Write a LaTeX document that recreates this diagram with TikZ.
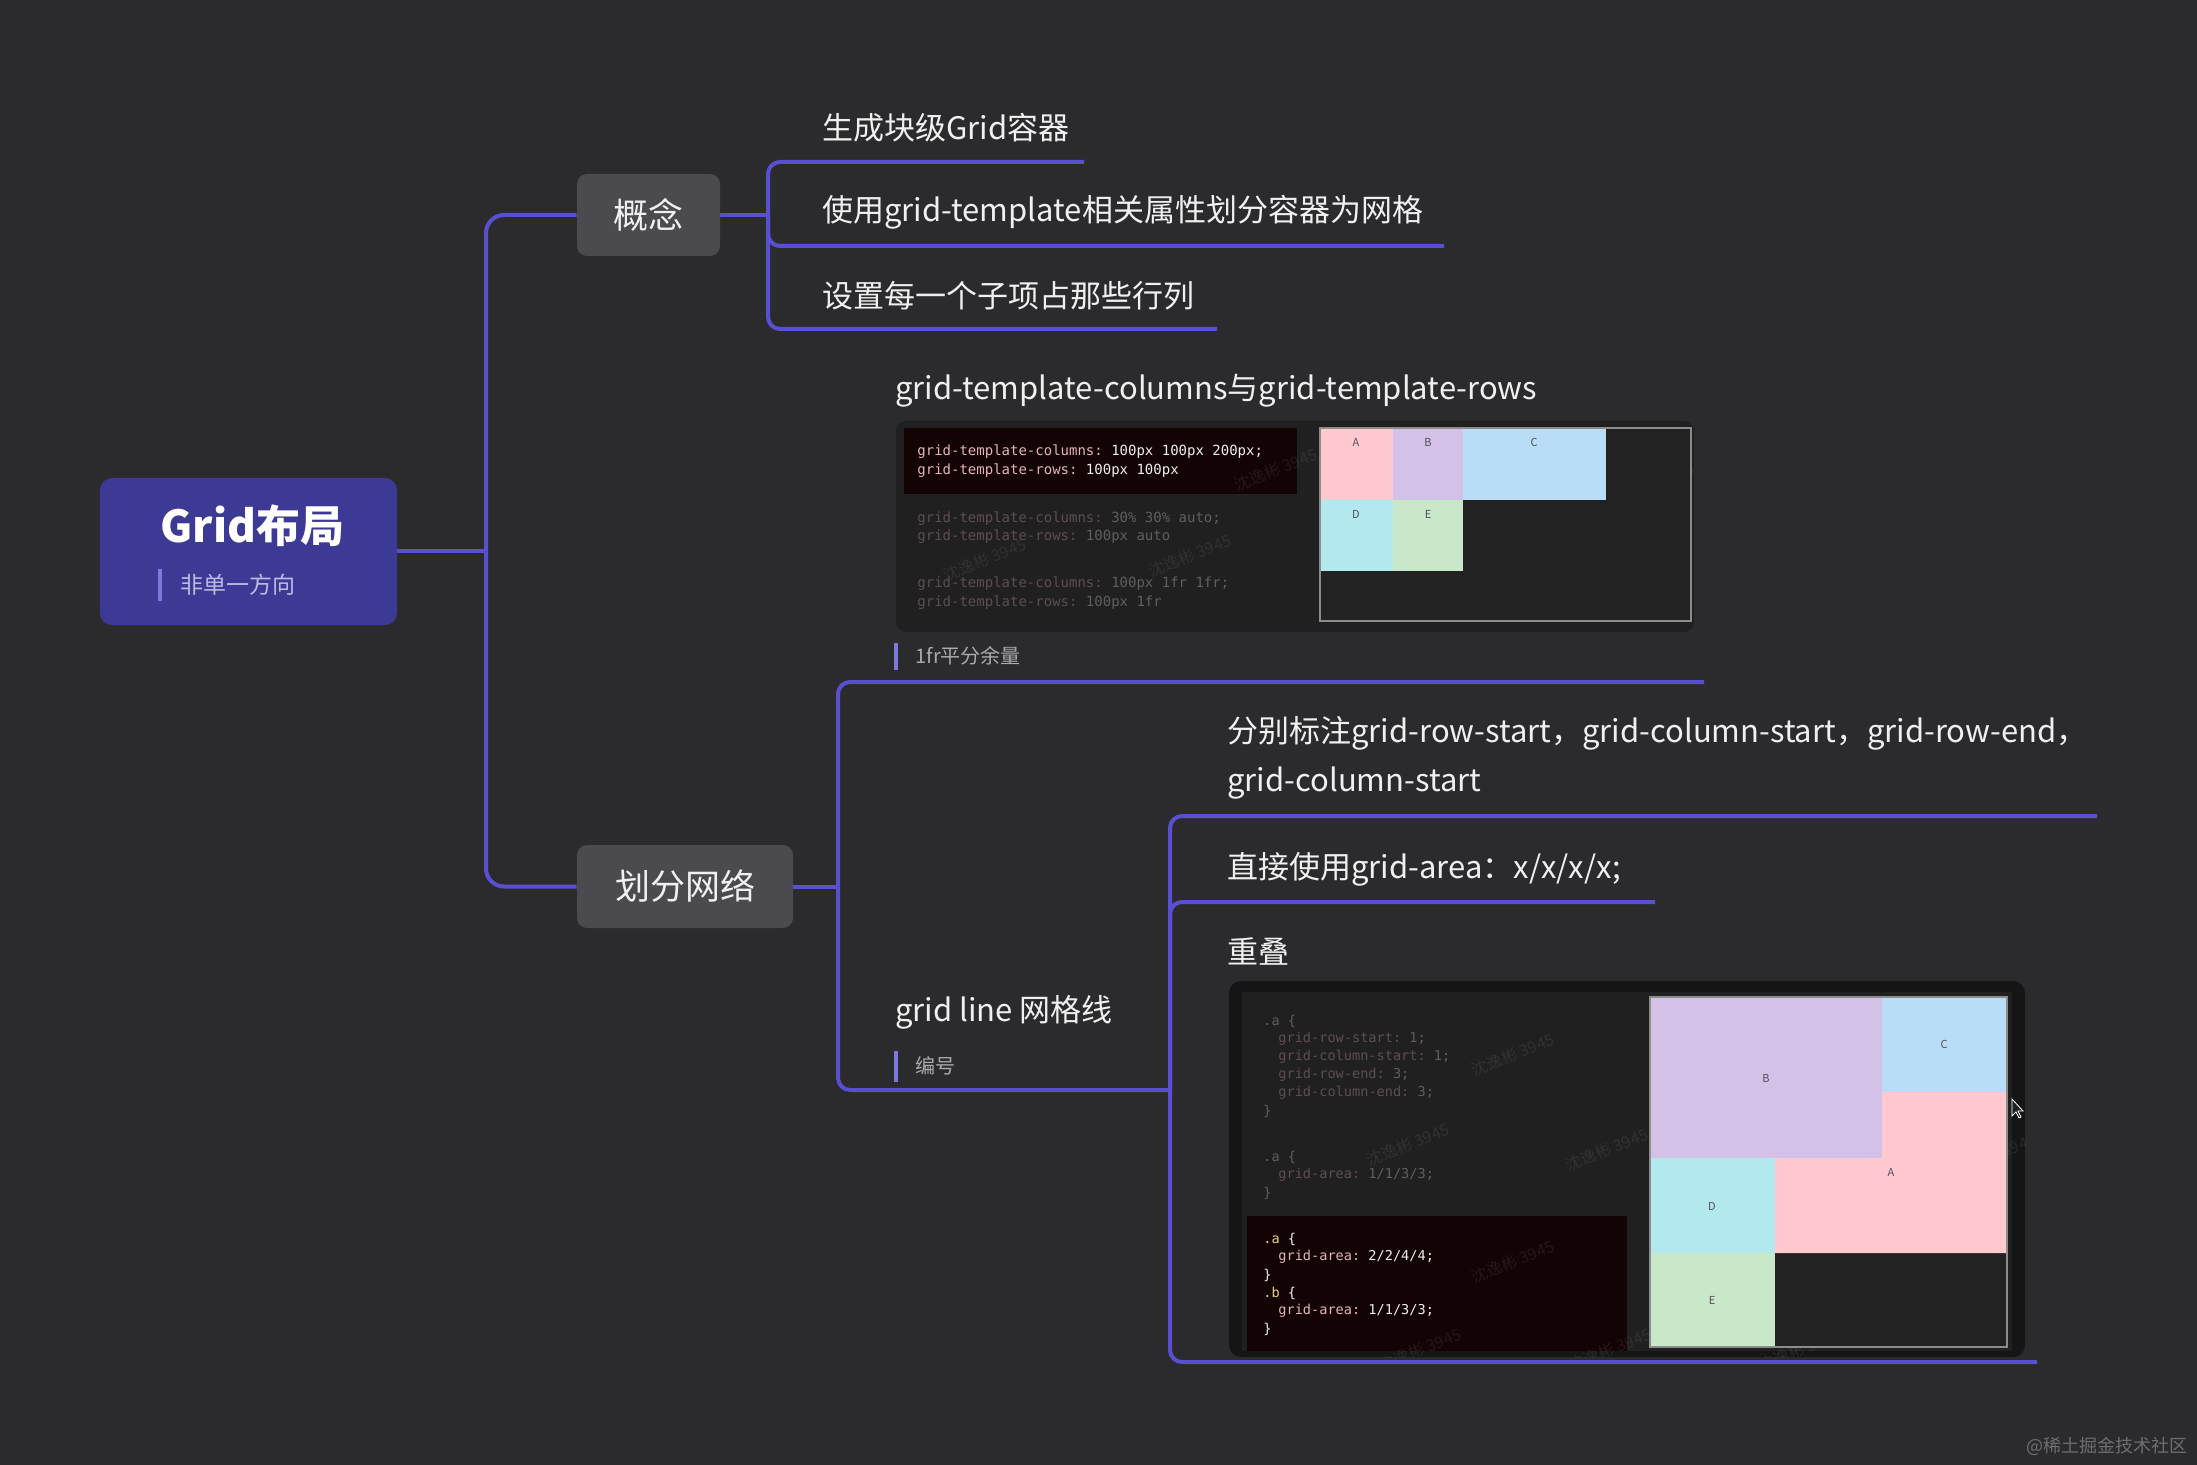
\documentclass[tikz,border=0pt]{standalone}
\usepackage{fontspec}
\setmainfont{Noto Sans CJK SC}
\setmonofont{DejaVu Sans Mono}
\definecolor{bgc}{RGB}{43,43,46}
\definecolor{branch}{RGB}{88,80,208}
\definecolor{rootc}{RGB}{61,58,150}
\definecolor{subfill}{RGB}{74,74,79}
\definecolor{subt}{RGB}{189,187,226}
\definecolor{notegray}{RGB}{170,170,172}
\definecolor{notebarc}{RGB}{125,120,224}
\definecolor{panelc}{RGB}{32,32,33}
\definecolor{panelo}{RGB}{21,21,22}
\definecolor{hlc}{RGB}{20,3,4}
\definecolor{pkb}{RGB}{226,180,186}
\definecolor{wv}{RGB}{240,240,240}
\definecolor{dimk}{RGB}{92,78,80}
\definecolor{dimv}{RGB}{95,95,95}
\definecolor{yel}{RGB}{228,212,110}
\definecolor{cA}{RGB}{255,201,207}
\definecolor{cB}{RGB}{211,193,231}
\definecolor{cC}{RGB}{185,220,247}
\definecolor{cD}{RGB}{178,233,239}
\definecolor{cE}{RGB}{201,231,201}
\definecolor{celltext}{RGB}{80,80,90}
\definecolor{framec}{RGB}{140,140,140}
\definecolor{darkcell}{RGB}{34,34,35}
\definecolor{footc}{RGB}{110,110,112}
\tikzset{
  br/.style={draw=branch, line width=2pt, rounded corners=6pt},
  trunkline/.style={draw=branch, line width=2pt, rounded corners=9pt},
  txt/.style={anchor=west, inner sep=0pt, text=wv, font=\fontsize{15.5}{18}\selectfont},
  notetxt/.style={anchor=west, inner sep=0pt, text=notegray, font=\fontsize{10}{12}\selectfont},
  notebar/.style={draw=notebarc, line width=1.8pt},
  topic/.style={fill=subfill, rounded corners=5pt, inner sep=0pt, text=wv, font=\fontsize{17.5}{20}\selectfont},
  codeln/.style={anchor=west, inner sep=0pt, font=\ttfamily\fontsize{7}{8}\selectfont},
  codeln2/.style={anchor=west, inner sep=0pt, font=\ttfamily\fontsize{6.8}{8}\selectfont},
  celllab/.style={inner sep=0pt, font=\fontsize{5.5}{6}\selectfont, text=celltext},
  wmark/.style={text=white, text opacity=0.08, rotate=22, inner sep=0pt, font=\fontsize{8}{9}\selectfont},
}
\begin{document}
\begin{tikzpicture}[x=0.5pt,y=-0.5pt]
\fill[bgc] (0,0) rectangle (2197,1465);
\useasboundingbox (0,0) rectangle (2197,1465);

% ---------- root ----------
\node[fill=rootc, rounded corners=6pt, minimum width=148.5pt, minimum height=73.5pt, inner sep=0pt] (root) at (248.5,551.5) {};
\node[anchor=west, inner sep=0pt, text=white, font=\bfseries\fontsize{22}{26}\selectfont] (roottitle) at (160,526) {Grid布局};
\draw[notebar] (160,569) -- (160,601);
\node[anchor=west, inner sep=0pt, text=subt, font=\fontsize{11.5}{13}\selectfont] (rootsub) at (180,585) {非单一方向};

% ---------- level 1 ----------
\node[topic, minimum width=71.5pt, minimum height=41pt] (c1) at (648.5,215) {概念};
\node[topic, minimum width=108pt, minimum height=41.5pt] (c2) at (685,886.5) {划分网络};
\coordinate (trunk) at (486,551.5);
\draw[br] (root.east) -- (trunk);
\draw[trunkline] (trunk) |- (c1.west);
\draw[trunkline] (trunk) |- (c2.west);

% ---------- 概念 children ----------
\coordinate (cb) at (768,215);
\coordinate (u1) at (1084,162);
\coordinate (u2) at (1444,246);
\coordinate (u3) at (1217,329);
\draw[br] (c1.east) -- (cb);
\draw[br] (cb) |- (u1);
\draw[br] (cb) |- (u2);
\draw[br] (cb) |- (u3);
\node[txt] (t1) at (822,128) {生成块级Grid容器};
\node[txt] (t2) at (822,212) {使用grid-template相关属性划分容器为网格};
\node[txt] (t3) at (822,296) {设置每一个子项占那些行列};

% ---------- 划分网络 children ----------
\coordinate (gb) at (838,886.5);
\coordinate (v1) at (1704,682);
\coordinate (sb) at (1170,1090);
\coordinate (w1) at (2097,816);
\coordinate (w2) at (1655,902);
\coordinate (w3) at (2037,1362);
\draw[br] (c2.east) -- (gb);
\draw[br] (gb) |- (v1);
\draw[br] (gb) |- (sb);
\draw[br] (sb) |- (w1);
\draw[br] (sb) |- (w2);
\draw[br] (sb) |- (w3);

\node[txt] (g1) at (895,391) {grid-template-columns与grid-template-rows};
\draw[notebar] (896,643) -- (896,670);
\node[notetxt] (n1) at (915,656) {1fr平分余量};
\node[txt] (g2) at (895,1012) {grid line 网格线};
\draw[notebar] (896,1051) -- (896,1082);
\node[notetxt] (n2) at (915,1066) {编号};

\node[txt] (s1a) at (1227,733) {分别标注grid-row-start，grid-column-start，grid-row-end，};
\node[txt] (s1b) at (1227,783) {grid-column-start};
\node[txt] (s2) at (1227,869) {直接使用grid-area：x/x/x/x;};
\node[txt] (s3) at (1227,951) {重叠};

% ---------- screenshot 1 ----------
\fill[panelc, rounded corners=5pt] (896,421) rectangle (1694,632);
\fill[hlc] (904,428) rectangle (1297,494);
\begin{scope}
\clip (896,421) rectangle (1694,632);
\foreach \p in {(985,560),(1190,556),(1600,570),(1276,470),(1690,470),(1365,577)}
  \node[wmark] at \p {沈逸彬 3945};
\end{scope}
\node[codeln] (p1l1) at (917,452) {\textcolor{pkb}{grid-template-columns:} \textcolor{wv}{100px 100px 200px;}};
\node[codeln] (p1l2) at (917,471) {\textcolor{pkb}{grid-template-rows:} \textcolor{wv}{100px 100px}};
\node[codeln] (p1l3) at (917,519) {\textcolor{dimk}{grid-template-columns:} \textcolor{dimv}{30\% 30\% auto;}};
\node[codeln] (p1l4) at (917,537) {\textcolor{dimk}{grid-template-rows:} \textcolor{dimv}{100px auto}};
\node[codeln] (p1l5) at (917,584) {\textcolor{dimk}{grid-template-columns:} \textcolor{dimv}{100px 1fr 1fr;}};
\node[codeln] (p1l6) at (917,603) {\textcolor{dimk}{grid-template-rows:} \textcolor{dimv}{100px 1fr}};
\fill[darkcell] (1320,428) rectangle (1691,621);
\fill[cA] (1320,428) rectangle (1393,500);
\fill[cB] (1393,428) rectangle (1463,500);
\fill[cC] (1463,428) rectangle (1606,500);
\fill[cD] (1320,500) rectangle (1393,571);
\fill[cE] (1393,500) rectangle (1463,571);
\draw[framec, line width=0.8pt] (1320,428) rectangle (1691,621);
\node[celllab] (la1) at (1356,442) {A};
\node[celllab] (lb1) at (1428,442) {B};
\node[celllab] (lc1) at (1534,442) {C};
\node[celllab] (ld1) at (1356,514) {D};
\node[celllab] (le1) at (1428,514) {E};

% ---------- screenshot 2 ----------
\fill[panelo, rounded corners=6pt] (1229,981) rectangle (2025,1357);
\fill[panelc] (1242,992) rectangle (2012,1351);
\fill[hlc] (1247,1216) rectangle (1627,1351);
\begin{scope}
\clip (1229,981) rectangle (2025,1357);
\foreach \p in {(1513,1055),(1408,1145),(1607,1150),(1513,1262),(1900,1262),(1995,1155),(1420,1350),(1610,1350),(1800,1350)}
  \node[wmark] at \p {沈逸彬 3945};
\end{scope}
\node[codeln2] (p2l1) at (1263,1021) {\textcolor{dimv}{.a \{}};
\node[codeln2] (p2l2) at (1278,1039) {\textcolor{dimk}{grid-row-start:} \textcolor{dimv}{1;}};
\node[codeln2] (p2l3) at (1278,1057) {\textcolor{dimk}{grid-column-start:} \textcolor{dimv}{1;}};
\node[codeln2] (p2l4) at (1278,1075) {\textcolor{dimk}{grid-row-end:} \textcolor{dimv}{3;}};
\node[codeln2] (p2l5) at (1278,1093) {\textcolor{dimk}{grid-column-end:} \textcolor{dimv}{3;}};
\node[codeln2] (p2l6) at (1263,1111) {\textcolor{dimv}{\}}};
\node[codeln2] (p2l7) at (1263,1157) {\textcolor{dimv}{.a \{}};
\node[codeln2] (p2l8) at (1278,1175) {\textcolor{dimk}{grid-area:} \textcolor{dimv}{1/1/3/3;}};
\node[codeln2] (p2l9) at (1263,1193) {\textcolor{dimv}{\}}};
\node[codeln2] (p2l10) at (1263,1239) {\textcolor{yel}{.a} \textcolor{wv}{\{}};
\node[codeln2] (p2l11) at (1278,1257) {\textcolor{pkb}{grid-area:} \textcolor{wv}{2/2/4/4;}};
\node[codeln2] (p2l12) at (1263,1275) {\textcolor{wv}{\}}};
\node[codeln2] (p2l13) at (1263,1293) {\textcolor{yel}{.b} \textcolor{wv}{\{}};
\node[codeln2] (p2l14) at (1278,1311) {\textcolor{pkb}{grid-area:} \textcolor{wv}{1/1/3/3;}};
\node[codeln2] (p2l15) at (1263,1329) {\textcolor{wv}{\}}};
\fill[darkcell] (1650,997) rectangle (2007,1347);
\fill[cB] (1650,997) rectangle (1882,1158);
\fill[cC] (1882,997) rectangle (2007,1092);
\fill[cA] (1882,1092) -- (2007,1092) -- (2007,1253) -- (1775,1253) -- (1775,1158) -- (1882,1158) -- cycle;
\fill[cD] (1650,1158) rectangle (1775,1253);
\fill[cE] (1650,1253) rectangle (1775,1347);
\draw[framec, line width=0.8pt] (1650,997) rectangle (2007,1347);
\node[celllab] (lb2) at (1766,1078) {B};
\node[celllab] (lc2) at (1944,1044) {C};
\node[celllab] (la2) at (1891,1172) {A};
\node[celllab] (ld2) at (1712,1206) {D};
\node[celllab] (le2) at (1712,1300) {E};
\filldraw[fill=darkcell, draw=white, line width=0.4pt] (2012,1099) -- (2012,1116) -- (2016,1112) -- (2019,1118) -- (2021,1117) -- (2018,1111) -- (2023,1111) -- cycle;

% ---------- footer ----------
\node[anchor=east, inner sep=0pt, text=footc, font=\fontsize{9}{10}\selectfont] (foot) at (2188,1446) {@稀土掘金技术社区};
\end{tikzpicture}
\end{document}
